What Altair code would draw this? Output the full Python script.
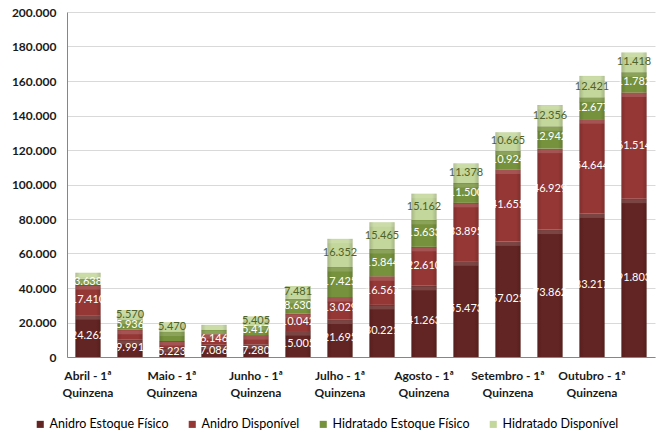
import altair as alt
import pandas as pd

# Quinzenas (14 períodos)
periodos = [
    "Abril - 1ª Quinzena", "Abril - 2ª Quinzena",
    "Maio - 1ª Quinzena", "Maio - 2ª Quinzena",
    "Junho - 1ª Quinzena", "Junho - 2ª Quinzena",
    "Julho - 1ª Quinzena", "Julho - 2ª Quinzena",
    "Agosto - 1ª Quinzena", "Agosto - 2ª Quinzena",
    "Setembro - 1ª Quinzena", "Setembro - 2ª Quinzena",
    "Outubro - 1ª Quinzena", "Outubro - 2ª Quinzena",
]

series = [
    "Anidro Estoque Físico",
    "Anidro Disponível",
    "Hidratado Estoque Físico",
    "Hidratado Disponível",
]

anidro_estoque = [24262, 9991, 5223, 7086, 7280, 15005, 21695, 30221, 41263, 55473, 67025, 73862, 83217, 91803]
anidro_disponivel = [17410, 5800, 4000, 6146, 5400, 10042, 13029, 16567, 22610, 33895, 41655, 46929, 54644, 61514]
hidratado_estoque = [3638, 5936, 5500, 2500, 5417, 8630, 17425, 15844, 15633, 11500, 10924, 12942, 12677, 11782]
hidratado_disponivel = [3500, 5570, 5470, 2900, 5405, 7481, 16352, 15465, 15162, 11378, 10665, 12356, 12421, 11418]

# (período, série) cujos rótulos ficam ocultos
sem_rotulo = [(0, 3), (1, 1), (2, 1), (2, 2), (3, 2), (3, 3), (4, 1)]

y_ticks = list(range(0, 200001, 20000))

cores = ["#632523", "#953735", "#76923C", "#C3D69B"]

valores = [anidro_estoque, anidro_disponivel, hidratado_estoque, hidratado_disponivel]
rows = []
for s_i, (nome, vals) in enumerate(zip(series, valores)):
    for p_i, v in enumerate(vals):
        rows.append({
            "periodo": periodos[p_i],
            "serie": nome,
            "ordem": s_i,
            "valor": v,
            "rotulo": (p_i, s_i) not in sem_rotulo,
        })
df = pd.DataFrame(rows)

FONT = "Lato"
fmt_pt = "replace(format({v}, ',d'), ',', '.')"

base = (
    alt.Chart(df)
    .transform_stack(
        stack="valor",
        groupby=["periodo"],
        as_=["y0", "y1"],
        sort=[alt.SortField("ordem", order="ascending")],
    )
    .transform_calculate(meio="(datum.y0 + datum.y1) / 2")
)

x_scale = alt.Scale(paddingInner=0.4, paddingOuter=0.2)
y_scale = alt.Scale(domain=[0, 200000], nice=False)

x_axis = alt.Axis(
    title=None,
    labelAngle=0,
    ticks=False,
    grid=False,
    domainColor="#868686",
    labelFont=FONT,
    labelFontSize=12,
    labelFontWeight="bold",
    labelColor="#1a1a1a",
    labelPadding=13,
    labelLineHeight=17,
    labelOverlap=False,
    labelExpr="indexof(datum.label, '2ª') >= 0 ? '' : [replace(datum.label, ' Quinzena', ''), 'Quinzena']",
)

y_axis = alt.Axis(
    title=None,
    values=y_ticks,
    ticks=False,
    labelOverlap=False,
    domainColor="#868686",
    gridColor="#D9D9D9",
    labelFont=FONT,
    labelFontSize=12,
    labelFontWeight="bold",
    labelColor="#1a1a1a",
    labelPadding=11,
    labelExpr=fmt_pt.format(v="datum.value"),
)

x_enc = alt.X("periodo:N", sort=periodos, scale=x_scale, axis=x_axis)

bars = base.mark_bar().encode(
    x=x_enc,
    y=alt.Y("y0:Q", scale=y_scale, axis=y_axis),
    y2="y1:Q",
    color=alt.Color(
        "serie:N",
        scale=alt.Scale(domain=series, range=cores),
        legend=alt.Legend(
            title=None,
            orient="none",
            legendX=-33,
            legendY=406,
            direction="horizontal",
            columns=4,
            symbolType="square",
            symbolSize=50,
            symbolStrokeWidth=0,
            labelFont=FONT,
            labelFontSize=12.5,
            labelColor="#000000",
            labelOffset=3,
            columnPadding=17,
        ),
    ),
)

# Sombreado lateral (efeito de chanfro) sobre cada segmento
sombra = base.mark_bar(
    color=alt.LinearGradient(
        gradient="linear",
        x1=0, x2=1, y1=0, y2=0,
        stops=[
            alt.GradientStop(color="rgba(0,0,0,0.15)", offset=0),
            alt.GradientStop(color="rgba(0,0,0,0)", offset=0.18),
            alt.GradientStop(color="rgba(0,0,0,0)", offset=0.82),
            alt.GradientStop(color="rgba(0,0,0,0.15)", offset=1),
        ],
    )
).encode(
    x=x_enc,
    y=alt.Y("y0:Q", scale=y_scale, axis=y_axis),
    y2="y1:Q",
)

# Faixa clara no topo de cada segmento
brilho = base.mark_tick(
    color="white", opacity=0.15, thickness=4, size=25, yOffset=2.5
).encode(
    x=x_enc,
    y=alt.Y("y1:Q", scale=y_scale, axis=y_axis),
)

labels = (
    base.transform_filter("datum.rotulo")
    .transform_calculate(
        lbl=fmt_pt.format(v="datum.valor"),
        cor="datum.ordem == 3 ? '#4F6228' : '#FFFFFF'",
    )
    .mark_text(font=FONT, fontSize=11, baseline="middle")
    .encode(
        x=x_enc,
        y=alt.Y("meio:Q", scale=y_scale, axis=y_axis),
        text="lbl:N",
        color=alt.Color("cor:N", scale=None),
    )
)

chart = (
    alt.layer(bars, sombra, brilho, labels)
    .properties(
        width=588,
        height=345,
        autosize=alt.AutoSizeParams(type="none"),
        padding={"left": 67, "top": 12, "right": 3, "bottom": 78},
    )
    .configure_view(stroke=None)
)

chart.save("out.html", embed_options={"renderer": "svg", "actions": False})
